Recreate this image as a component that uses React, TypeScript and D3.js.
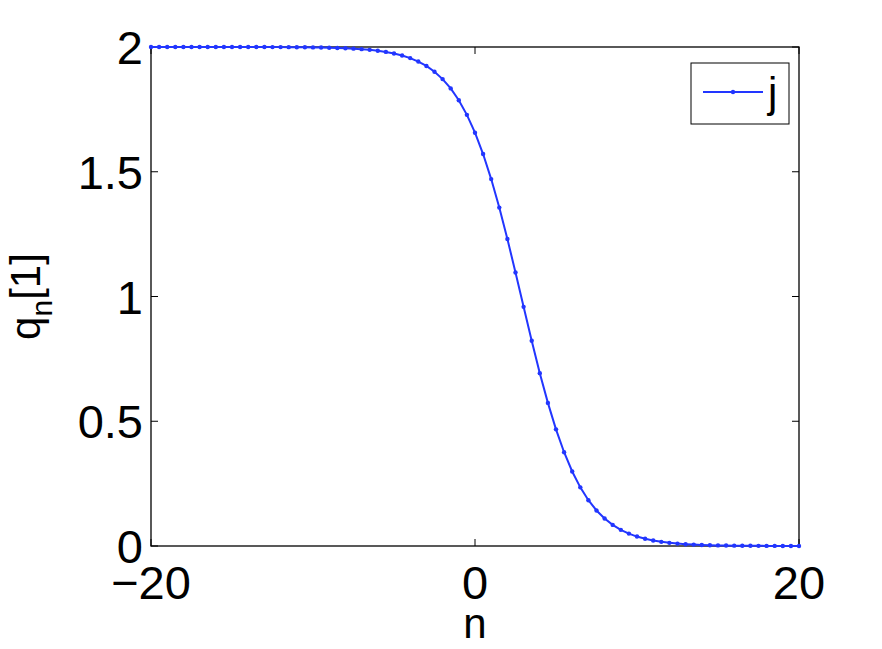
import React from "react";
import * as d3 from "d3";

const nValues: number[] = d3.range(-20, 20.001, 0.5);
const qValuesLeft: number[] = [
  2.0, 2.0, 2.0, 2.0, 2.0, 1.9999, 1.9999, 1.9999, 1.9999, 1.9999,
  1.9998, 1.9998, 1.9998, 1.9998, 1.9997, 1.9996, 1.9995, 1.9993, 1.999, 1.9987,
  1.9983, 1.9978, 1.9971, 1.9962, 1.995, 1.9934, 1.9914, 1.9886, 1.985, 1.9803,
  1.9741, 1.966, 1.9555, 1.9417, 1.924, 1.901, 1.8714, 1.834, 1.7868, 1.7281,
  1.6566,
];
const qValuesRight: number[] = [
  1.5709, 1.4706, 1.3564, 1.2305, 1.0963, 0.9586, 0.8224, 0.6928, 0.5736, 0.4675,
  0.3759, 0.2987, 0.2351, 0.1836, 0.1424, 0.11, 0.0846, 0.0648, 0.0496, 0.0378,
  0.0288, 0.022, 0.0167, 0.0127, 0.0096, 0.0073, 0.0056, 0.0042, 0.0032, 0.0024,
  0.0018, 0.0014, 0.0011, 0.0008, 0.0006, 0.0005, 0.0004, 0.0003, 0.0002, 0.0002,
];
const qValues: number[] = [...qValuesLeft, ...qValuesRight];
const xTicks: number[] = [-20, 0, 20];
const yTicks: number[] = [0, 0.5, 1, 1.5, 2];
const xTickLabels: string[] = ["\u221220", "0", "20"];
const yTickLabels: string[] = ["0", "0.5", "1", "1.5", "2"];
const legendLabel = "j";

const W = 882;
const H = 649;
const left = 151;
const right = 799;
const top = 47;
const bottom = 546;
const color = "#2236ff";
const font = "'Liberation Sans', Arial, Helvetica, sans-serif";

export default function App() {
  const x = d3.scaleLinear().domain([-20, 20]).range([left, right]);
  const y = d3.scaleLinear().domain([0, 2]).range([bottom, top]);
  const data = nValues.map((n, i) => ({ n, q: qValues[i] }));
  const line = d3
    .line<{ n: number; q: number }>()
    .x((d) => x(d.n))
    .y((d) => y(d.q));
  const tl = 7;
  return (
    <svg
      width={W}
      height={H}
      style={{ position: "absolute", left: 0, top: 0, background: "#fff" }}
      fontFamily={font}
    >
      <rect x={0} y={0} width={W} height={H} fill="#fff" />
      {xTicks.map((t) => (
        <g key={"xt" + t}>
          <line x1={x(t)} x2={x(t)} y1={bottom} y2={bottom - tl} stroke="#000" strokeWidth={1} />
          <line x1={x(t)} x2={x(t)} y1={top} y2={top + tl} stroke="#000" strokeWidth={1} />
        </g>
      ))}
      {yTicks.map((t) => (
        <g key={"yt" + t}>
          <line x1={left} x2={left + tl} y1={y(t)} y2={y(t)} stroke="#000" strokeWidth={1} />
          <line x1={right} x2={right - tl} y1={y(t)} y2={y(t)} stroke="#000" strokeWidth={1} />
        </g>
      ))}
      <rect
        x={left}
        y={top}
        width={right - left}
        height={bottom - top}
        fill="none"
        stroke="#000"
        strokeWidth={1.3}
      />
      {xTicks.map((t, i) => (
        <text key={"xl" + t} x={x(t)} y={599} fontSize={47} textAnchor="middle" fill="#000">
          {xTickLabels[i]}
        </text>
      ))}
      {yTicks.map((t, i) => (
        <text
          key={"yl" + t}
          x={143}
          y={y(t) + 17}
          fontSize={47}
          textAnchor="end"
          fill="#000"
        >
          {yTickLabels[i]}
        </text>
      ))}
      <text x={(left + right) / 2} y={638} fontSize={42} textAnchor="middle" fill="#000">
        n
      </text>
      <text
        transform={`translate(40, ${(top + bottom) / 2}) rotate(-90)`}
        fontSize={42}
        textAnchor="middle"
        fill="#000"
      >
        <tspan>q</tspan>
        <tspan fontSize={30} dy={12}>n</tspan>
        <tspan dy={-12}>[1]</tspan>
      </text>
      <path d={line(data) || ""} fill="none" stroke={color} strokeWidth={2} />
      {data.map((d, i) => (
        <circle key={i} cx={x(d.n)} cy={y(d.q)} r={2.2} fill={color} />
      ))}
      <rect x={691} y={63} width={98} height={61} fill="#fff" stroke="#000" strokeWidth={1} />
      <line x1={703} x2={763} y1={92} y2={92} stroke={color} strokeWidth={2} />
      <circle cx={733} cy={92} r={2.2} fill={color} />
      <text x={768} y={107} fontSize={42} fill="#000">
        {legendLabel}
      </text>
    </svg>
  );
}
